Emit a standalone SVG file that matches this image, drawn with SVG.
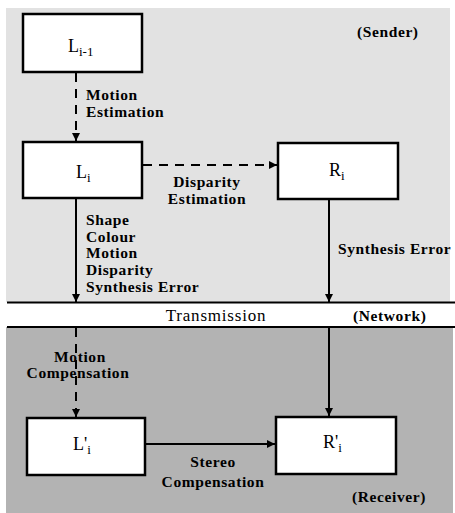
<svg xmlns="http://www.w3.org/2000/svg" width="455" height="513" viewBox="0 0 455 513">
<defs>
<marker id="ah" viewBox="0 0 10 10" refX="10" refY="5" markerWidth="8" markerHeight="8" markerUnits="userSpaceOnUse" orient="auto"><path d="M0,0 L10,5 L0,10 z" fill="#000"/></marker>
<style>
.box{fill:#fff;stroke:#000;stroke-width:2.5}
.nl{font-family:"Liberation Serif","DejaVu Serif",serif;font-size:18px;fill:#000}
.sb{font-size:13px}
.lb{font-family:"Liberation Serif","DejaVu Serif",serif;font-size:15.5px;font-weight:bold;letter-spacing:0.6px;fill:#000}
.tx{font-family:"Liberation Serif","DejaVu Serif",serif;font-size:17px;letter-spacing:0.8px;fill:#000}
.c{stroke:#000;stroke-width:2;fill:none}
.d{stroke-dasharray:9,7}
</style>
</defs>
<rect width="455" height="513" fill="#fff"/>
<rect x="6" y="8" width="444" height="294" fill="#e2e2e2"/>
<rect x="6" y="327" width="447" height="186" fill="#b3b3b3"/>
<line x1="7" y1="302.5" x2="455" y2="302.5" stroke="#000" stroke-width="2"/>
<line x1="7" y1="327" x2="455" y2="327" stroke="#000" stroke-width="2"/>
<g id="connectors">
<line class="c d" x1="76" y1="73" x2="76" y2="141" marker-end="url(#ah)"/>
<line class="c d" x1="143" y1="165" x2="277" y2="165" marker-end="url(#ah)"/>
<line class="c" x1="76" y1="199" x2="76" y2="302" marker-end="url(#ah)"/>
<line class="c" x1="329" y1="199" x2="329" y2="302" marker-end="url(#ah)"/>
<line class="c d" x1="76" y1="328" x2="76" y2="417" marker-end="url(#ah)"/>
<line class="c" x1="329" y1="328" x2="329" y2="416" marker-end="url(#ah)"/>
<line class="c" x1="146" y1="444" x2="275" y2="444" marker-end="url(#ah)"/>
</g>
<g id="L_im1"><rect class="box" x="23" y="14" width="119" height="58"/><text class="nl" x="68" y="52">L<tspan class="sb" dy="4">i-1</tspan></text></g>
<g id="L_i"><rect class="box" x="23" y="142" width="119" height="56"/><text class="nl" x="76" y="178">L<tspan class="sb" dy="4">i</tspan></text></g>
<g id="R_i"><rect class="box" x="278" y="143" width="120" height="56"/><text class="nl" x="329" y="176">R<tspan class="sb" dy="4">i</tspan></text></g>
<g id="Lp_i"><rect class="box" x="27" y="418" width="118" height="57"/><text class="nl" x="73" y="450">L'<tspan class="sb" dy="4">i</tspan></text></g>
<g id="Rp_i"><rect class="box" x="276" y="417" width="120" height="57"/><text class="nl" x="323" y="448">R'<tspan class="sb" dy="4">i</tspan></text></g>
<g id="labels">
<text class="lb" x="86" y="100">Motion</text>
<text class="lb" x="86" y="117">Estimation</text>
<text class="lb" x="207" y="187" text-anchor="middle">Disparity</text>
<text class="lb" x="207" y="204" text-anchor="middle">Estimation</text>
<text class="lb" x="86" y="225">Shape</text>
<text class="lb" x="86" y="242">Colour</text>
<text class="lb" x="86" y="258">Motion</text>
<text class="lb" x="86" y="275">Disparity</text>
<text class="lb" x="86" y="292">Synthesis Error</text>
<text class="lb" x="338" y="254">Synthesis Error</text>
<text class="lb" x="357" y="37">(Sender)</text>
<text class="tx" x="216" y="321" text-anchor="middle">Transmission</text>
<text class="lb" x="353" y="321">(Network)</text>
<text class="lb" x="80" y="362" text-anchor="middle">Motion</text>
<text class="lb" x="78" y="378" text-anchor="middle">Compensation</text>
<text class="lb" x="213" y="467" text-anchor="middle">Stereo</text>
<text class="lb" x="213" y="487" text-anchor="middle">Compensation</text>
<text class="lb" x="352" y="502">(Receiver)</text>
</g>
</svg>
